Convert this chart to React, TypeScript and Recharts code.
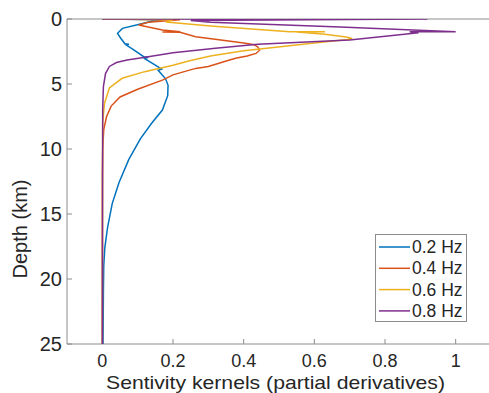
import React from 'react';
import { ScatterChart, Scatter, XAxis, YAxis } from 'recharts';

// Tick values
const xTicks = [0, 0.2, 0.4, 0.6, 0.8, 1];
const yTicks = [0, 5, 10, 15, 20, 25];

// 0.2 Hz kernel
const hz02Depth = [0, 0.05, 0.18, 0.38, 0.72, 1.1, 1.48, 1.9, 1.95, 2.0, 2.38, 2.9, 2.95, 3.05, 3.54, 3.85, 3.95, 4.6, 5.1, 5.9, 7.0, 8.0, 9.2, 10.8, 12.6, 14.2, 16.0, 17.6, 19.0, 21.0, 25.0];
const hz02Kernel = [0, 0.17, 0.14, 0.108, 0.057, 0.043, 0.052, 0.064, 0.075, 0.068, 0.089, 0.117, 0.13, 0.12, 0.15, 0.168, 0.158, 0.179, 0.186, 0.185, 0.17, 0.14, 0.108, 0.075, 0.047, 0.028, 0.015, 0.007, 0.004, 0.003, 0.002];

// 0.4 Hz kernel
const hz04Depth = [0, 0.05, 0.25, 0.46, 0.85, 0.98, 1.0, 1.02, 1.36, 1.6, 1.85, 1.98, 2.15, 2.4, 2.65, 2.85, 3.0, 3.15, 3.4, 3.65, 3.8, 4.3, 4.7, 5.4, 6.0, 6.7, 7.5, 8.5, 10, 12, 25];
const hz04Kernel = [0, 0.22, 0.13, 0.103, 0.17, 0.22, 0.17, 0.22, 0.264, 0.33, 0.4, 0.43, 0.44, 0.445, 0.435, 0.41, 0.38, 0.36, 0.33, 0.3, 0.264, 0.2, 0.17, 0.1, 0.05, 0.025, 0.012, 0.004, 0.001, 0, 0];

// 0.6 Hz kernel
const hz06Depth = [0, 0.05, 0.23, 0.54, 0.98, 0.99, 1.0, 1.17, 1.38, 1.5, 1.58, 1.85, 2.13, 2.45, 2.85, 3.2, 3.55, 4.05, 4.56, 5.3, 6.5, 8, 25];
const hz06Kernel = [0, 0.2, 0.18, 0.306, 0.53, 0.63, 0.55, 0.63, 0.69, 0.707, 0.695, 0.6, 0.504, 0.4, 0.306, 0.25, 0.2, 0.12, 0.056, 0.02, 0.006, 0.001, 0];

// 0.8 Hz kernel
const hz08Depth = [0, 0, 0.12, 0.25, 0.62, 0.98, 0.98, 1.06, 1.62, 1.95, 2.25, 2.6, 2.97, 3.15, 3.35, 3.65, 4.2, 5.2, 7, 25];
const hz08Kernel = [0, 0.92, 0.25, 0.306, 0.673, 1.0, 0.87, 0.895, 0.7, 0.44, 0.32, 0.2, 0.117, 0.07, 0.04, 0.02, 0.009, 0.003, 0.001, 0];

const seriesNames = ['0.2 Hz', '0.4 Hz', '0.6 Hz', '0.8 Hz'];
const seriesColors = ['#0072BD', '#D95319', '#EDB120', '#7E2F8E'];

const toPoints = (depth: number[], kernel: number[]) =>
  depth.map((d, i) => ({ depth: d, kernel: kernel[i] }));

const series = [
  toPoints(hz02Depth, hz02Kernel),
  toPoints(hz04Depth, hz04Kernel),
  toPoints(hz06Depth, hz06Kernel),
  toPoints(hz08Depth, hz08Kernel),
];

const AXIS = '#8c8c8c';
const TEXT = '#262626';
const FONT = '"Liberation Sans", Arial, sans-serif';

const NoDot = () => <g />;

export default function App() {
  return (
    <div style={{ position: 'absolute', left: 0, top: 0, width: 489, height: 393, overflow: 'hidden', background: '#fff', fontFamily: FONT }}>
      <ScatterChart width={495} height={393} margin={{ top: 18, right: 4, bottom: 19, left: 7 }}>
        <XAxis
          xAxisId="b"
          type="number"
          dataKey="kernel"
          domain={[-0.1, 1.1]}
          allowDataOverflow
          ticks={xTicks}
          interval={0}
          height={30}
          axisLine={{ stroke: AXIS }}
          tickLine={{ stroke: AXIS }}
          tickSize={-5}
          tickMargin={15}
          tick={{ fill: TEXT, fontSize: 18, fontFamily: FONT }}
        />
        <XAxis
          xAxisId="t"
          orientation="top"
          type="number"
          domain={[-0.1, 1.1]}
          allowDataOverflow
          ticks={xTicks}
          interval={0}
          height={1}
          axisLine={{ stroke: AXIS }}
          tickLine={{ stroke: AXIS }}
          tickSize={-5}
          tick={NoDot}
        />
        <YAxis
          yAxisId="l"
          type="number"
          dataKey="depth"
          domain={[0, 25]}
          reversed
          allowDataOverflow
          ticks={yTicks}
          interval={0}
          width={60}
          axisLine={{ stroke: AXIS }}
          tickLine={{ stroke: AXIS }}
          tickSize={-5}
          tickMargin={10}
          tick={{ fill: TEXT, fontSize: 20, fontFamily: FONT }}
        />
        {series.map((pts, i) => (
          <Scatter
            key={seriesNames[i]}
            name={seriesNames[i]}
            data={pts}
            xAxisId="b"
            yAxisId="l"
            line={{ stroke: seriesColors[i], strokeWidth: 1.5 }}
            lineType="joint"
            shape={NoDot}
            fill={seriesColors[i]}
            isAnimationActive={false}
          />
        ))}
      </ScatterChart>
      <svg width={489} height={393} style={{ position: 'absolute', left: 0, top: 0, pointerEvents: 'none' }}>
        <text
          x={20}
          y={229}
          transform="rotate(-90 20 229)"
          textAnchor="middle"
          dominantBaseline="central"
          fill={TEXT}
          fontSize={20}
          fontFamily={FONT}
        >
          Depth (km)
        </text>
        <text
          x={275.5}
          y={388.5}
          textAnchor="middle"
          fill={TEXT}
          fontSize={18.5}
          fontFamily={FONT}
          textLength={339}
          lengthAdjust="spacingAndGlyphs"
        >
          Sentivity kernels (partial derivatives)
        </text>
        <rect x={375.5} y={234.5} width={91} height={87} fill="#fff" stroke={AXIS} strokeWidth={1} />
        {seriesNames.map((n, i) => (
          <g key={n}>
            <line x1={379} x2={410} y1={247 + i * 21.3} y2={247 + i * 21.3} stroke={seriesColors[i]} strokeWidth={1.5} />
            <text x={412} y={247 + i * 21.3} dominantBaseline="central" fill={TEXT} fontSize={17.5} fontFamily={FONT}>
              {n}
            </text>
          </g>
        ))}
      </svg>
    </div>
  );
}
